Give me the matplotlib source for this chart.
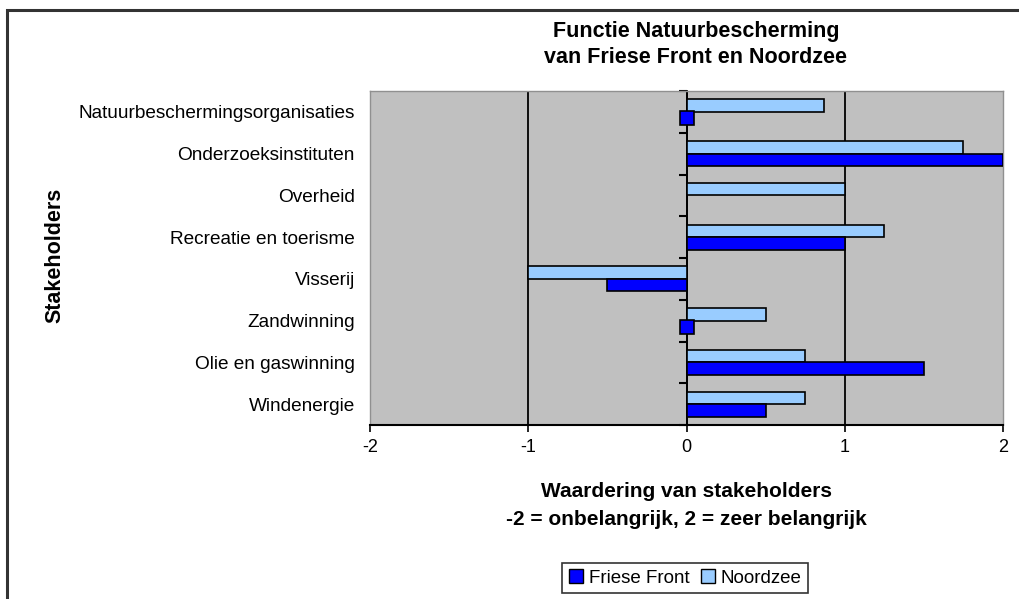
import numpy as np
import matplotlib.pyplot as plt
from matplotlib.patches import Rectangle, Patch

categories = ["Natuurbeschermingsorganisaties", "Onderzoeksinstituten", "Overheid",
              "Recreatie en toerisme", "Visserij", "Zandwinning",
              "Olie en gaswinning", "Windenergie"]
friese_front = [0.0, 2.0, np.nan, 1.0, -0.5, 0.0, 1.5, 0.5]
noordzee = [0.87, 1.75, 1.0, 1.25, -1.0, 0.5, 0.75, 0.75]
xticks = [-2, -1, 0, 1, 2]

title = "Functie Natuurbescherming\nvan Friese Front en Noordzee"
xlabel = "Waardering van stakeholders\n-2 = onbelangrijk, 2 = zeer belangrijk"
ylabel = "Stakeholders"

plt.rcParams['font.family'] = ['Liberation Sans', 'DejaVu Sans']

W, H = 1019, 599
fig = plt.figure(figsize=(W / 100, H / 100), dpi=100)
fig.patch.set_facecolor('white')

# outer chart frame
fig.add_artist(Rectangle((7 / W, -0.05), 1.1, 1 - 10 / H + 0.05, transform=fig.transFigure,
                         fill=False, edgecolor='#333333', linewidth=2.2))

ax = fig.add_axes([370 / W, 1 - 425 / H, (1003 - 370) / W, (425 - 91) / H])
ax.set_facecolor('#C0C0C0')

y = np.arange(len(categories))
h = 0.3
ff = np.array(friese_front, dtype=float)
nz = np.array(noordzee, dtype=float)

ax.barh(y - h / 2, nz, height=h, color='#99CCFF', edgecolor='black', linewidth=1.2,
        label='Noordzee', zorder=3)
ax.barh(y + h / 2, np.nan_to_num(ff), height=h, color='#0000FF', edgecolor='black',
        linewidth=1.2, label='Friese Front', zorder=3)
# zero-valued bars drawn as small squares (as Excel shows them)
zmask = (ff == 0)
ax.plot(ff[zmask], (y + h / 2)[zmask], linestyle='none', marker='s', markersize=9.5,
        markerfacecolor='#0000FF', markeredgecolor='black', markeredgewidth=1.2, zorder=4)

ax.set_xlim(-2, 2)
ax.set_ylim(len(categories) - 0.5, -0.5)
ax.set_xticks(xticks)
ax.set_xticklabels([str(t) for t in xticks], fontsize=13)
ax.tick_params(axis='x', direction='out', length=5, width=1.2, pad=5)
for v in [-1, 0, 1]:
    ax.axvline(v, color='black', linewidth=1.3, zorder=2)

ax.set_yticks(y)
ax.set_yticklabels(categories, fontsize=13.7)
ax.tick_params(axis='y', length=0, pad=11)

for s in ['top', 'right', 'left']:
    ax.spines[s].set_color('#909090')
    ax.spines[s].set_linewidth(1.0)
ax.spines['bottom'].set_color('black')
ax.spines['bottom'].set_linewidth(1.5)

# category axis at x=0 with boundary tick marks
sec = ax.secondary_yaxis(0.5)
sec.set_yticks(np.arange(len(categories) + 1) - 0.5)
sec.set_yticklabels([])
sec.tick_params(direction='in', length=6, width=1.5, color='black')
for sp in sec.spines.values():
    sp.set_color('black')
    sp.set_linewidth(1.3)

ax.set_title(title, fontsize=15.5, fontweight='bold', linespacing=1.35, pad=20,
             x=(696 - 370) / (1003 - 370))
ax.set_xlabel(xlabel, fontsize=15, fontweight='bold', linespacing=1.55, labelpad=19)
fig.text(55 / W, 1 - 255 / H, ylabel, rotation=90, fontsize=15.5, fontweight='bold',
         ha='center', va='center')

handles = [Patch(facecolor='#0000FF', edgecolor='black', label='Friese Front'),
           Patch(facecolor='#99CCFF', edgecolor='black', label='Noordzee')]
leg = fig.legend(handles=handles, loc='center', bbox_to_anchor=(685 / W, 1 - 578 / H),
                 ncol=2, fontsize=13.5, frameon=True, fancybox=False, handlelength=0.75,
                 handleheight=0.75, handletextpad=0.3, columnspacing=0.6,
                 borderpad=0.35)
leg.get_frame().set_edgecolor('black')
leg.get_frame().set_linewidth(1.2)

fig.savefig('out.png', dpi=100)
